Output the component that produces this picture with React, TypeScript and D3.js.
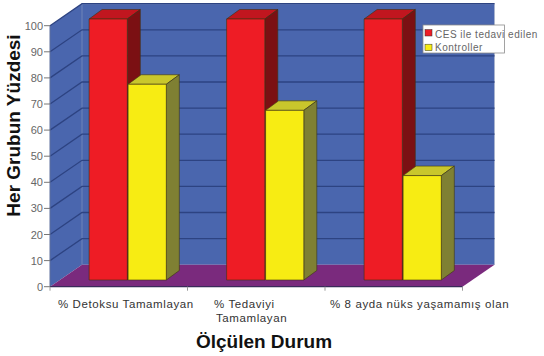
import React from "react";
import * as d3 from "d3";

const categories = ["% Detoksu Tamamlayan", "% Tedaviyi|Tamamlayan", "% 8 ayda nüks yaşamamış olan"];
const seriesNames = ["CES ile tedavi edilen", "Kontroller"];
const cesValues = [100, 100, 100];
const controlValues = [75, 65, 40];
const yTicks = [0, 10, 20, 30, 40, 50, 60, 70, 80, 90, 100];
const categoryLabelX = [58, 214, 330];

const faces = [
  { front: "#ee1c25", top: "#c1161f", side: "#7b1013" },
  { front: "#f7ec13", top: "#c9c72c", side: "#7f8033" },
];

const W = 544;
const H = 356;
const plot = { left: 50, right: 462.5, top: 25.7, bottom: 286.7 };
const depth = { dx: 32, dy: 22 };
const barDepth = { dx: 13, dy: 9.5 };
const barInset = { dx: 9.6, dy: 6.7 };

const y = d3.scaleLinear().domain([0, 100]).range([plot.bottom, plot.top]);
const x0 = d3.scaleBand<string>().domain(categories).range([plot.left, plot.right]);
const x1 = d3.scaleBand<string>().domain(seriesNames).range([29.5, 107.5]);

const poly = (pts: [number, number][]) => pts.map((p) => p.join(",")).join(" ");
const FONT = "'Liberation Sans', Arial, sans-serif";

export default function App() {
  const series = [cesValues, controlValues];
  const floorY = y(0);
  const backY = floorY - depth.dy;
  return (
    <svg
      width={W}
      height={H}
      style={{ position: "absolute", left: 0, top: 0, background: "#fff" }}
      fontFamily={FONT}
    >
      {/* side wall and back wall */}
      <polygon
        points={poly([
          [plot.left, floorY],
          [plot.left, y(100)],
          [plot.left + depth.dx, y(100) - depth.dy],
          [plot.right + depth.dx, y(100) - depth.dy],
          [plot.right + depth.dx, backY],
          [plot.left + depth.dx, backY],
        ])}
        fill="#4a66ae"
      />
      <polyline
        points={poly([
          [plot.left + depth.dx, y(100) - depth.dy],
          [plot.right + depth.dx, y(100) - depth.dy],
          [plot.right + depth.dx, backY],
        ])}
        fill="none"
        stroke="#a9b4cf"
        strokeWidth={1}
      />
      <line
        x1={plot.left + depth.dx}
        x2={plot.left + depth.dx}
        y1={y(100) - depth.dy}
        y2={backY}
        stroke="#6f84b8"
        strokeWidth={1}
      />

      {/* gridlines along both walls */}
      {yTicks.slice(1).map((t) => (
        <polyline
          key={t}
          points={poly([
            [plot.left, y(t)],
            [plot.left + depth.dx, y(t) - depth.dy],
            [plot.right + depth.dx, y(t) - depth.dy],
          ])}
          fill="none"
          stroke="#2d4382"
          strokeWidth={1.3}
        />
      ))}

      {/* floor */}
      <polygon
        points={poly([
          [plot.left, floorY],
          [plot.left + depth.dx, backY],
          [plot.right + depth.dx, backY],
          [plot.right, floorY],
        ])}
        fill="#7a2a7d"
      />

      {/* value axis */}
      <line x1={plot.left} x2={plot.left} y1={y(100)} y2={floorY} stroke="#5d6f9c" strokeWidth={1} />
      {yTicks.map((t) => (
        <g key={t}>
          <line x1={plot.left - 6} x2={plot.left} y1={y(t)} y2={y(t)} stroke="#777" strokeWidth={1} />
          <text x={plot.left - 7} y={y(t) + 4} textAnchor="end" fontSize={11} fill="#666">
            {t}
          </text>
        </g>
      ))}

      {/* category axis */}
      <line x1={plot.left} x2={plot.right} y1={floorY} y2={floorY} stroke="#3a2a5a" strokeWidth={1.2} />
      {[...categories.map((c) => x0(c)!), plot.right].map((tx, i) => (
        <line key={i} x1={tx} x2={tx} y1={floorY} y2={floorY + 4} stroke="#999" strokeWidth={1} />
      ))}

      {/* 3-D bars: each group is drawn red first so its side sits behind the yellow bar */}
      {categories.map((c, ci) =>
        seriesNames.map((s, si) => {
          const left = x0(c)! + x1(s)! + barInset.dx;
          const right = left + x1.bandwidth() - 0.8;
          const top = y(series[si][ci]) - barInset.dy;
          const bottom = y(0) - barInset.dy;
          const f = faces[si];
          const edge = { stroke: "#3c3410", strokeWidth: 0.6, strokeLinejoin: "round" as const };
          return (
            <g key={c + s}>
              <polygon
                points={poly([
                  [left, top],
                  [left + barDepth.dx, top - barDepth.dy],
                  [right + barDepth.dx, top - barDepth.dy],
                  [right, top],
                ])}
                fill={f.top}
                {...edge}
              />
              <polygon
                points={poly([
                  [right, top],
                  [right + barDepth.dx, top - barDepth.dy],
                  [right + barDepth.dx, bottom - barDepth.dy],
                  [right, bottom],
                ])}
                fill={f.side}
                {...edge}
              />
              <rect x={left} y={top} width={right - left} height={bottom - top} fill={f.front} {...edge} />
            </g>
          );
        })
      )}

      {/* category labels */}
      {categories.map((c, i) =>
        c.split("|").map((line, li) => (
          <text
            key={line}
            x={categoryLabelX[i] + (li === 1 ? 2 : 0)}
            y={307.5 + li * 14.5}
            fontSize={11.5}
            letterSpacing={0.6}
            fill="#333"
          >
            {line}
          </text>
        ))
      )}

      {/* axis titles */}
      <text
        transform="translate(20,125.5) rotate(-90)"
        textAnchor="middle"
        fontSize={19}
        fontWeight="bold"
        fill="#111"
      >
        Her Grubun Yüzdesi
      </text>
      <text x={264} y={348} textAnchor="middle" fontSize={19} fontWeight="bold" fill="#111">
        Ölçülen Durum
      </text>

      {/* legend: the box is narrower than its first entry, which runs past the border */}
      <rect x={423} y={25} width={81.5} height={28} fill="#fff" stroke="#8c8c8c" strokeWidth={0.8} />
      {seriesNames.map((s, i) => (
        <g key={s}>
          <rect
            x={425}
            y={29.5 + i * 14.7}
            width={7}
            height={6.5}
            fill={faces[i].front}
            stroke="#333"
            strokeWidth={0.5}
          />
          <text x={435} y={38 + i * 13} fontSize={10} letterSpacing={0.5} fill="#666">
            {s}
          </text>
        </g>
      ))}
    </svg>
  );
}
